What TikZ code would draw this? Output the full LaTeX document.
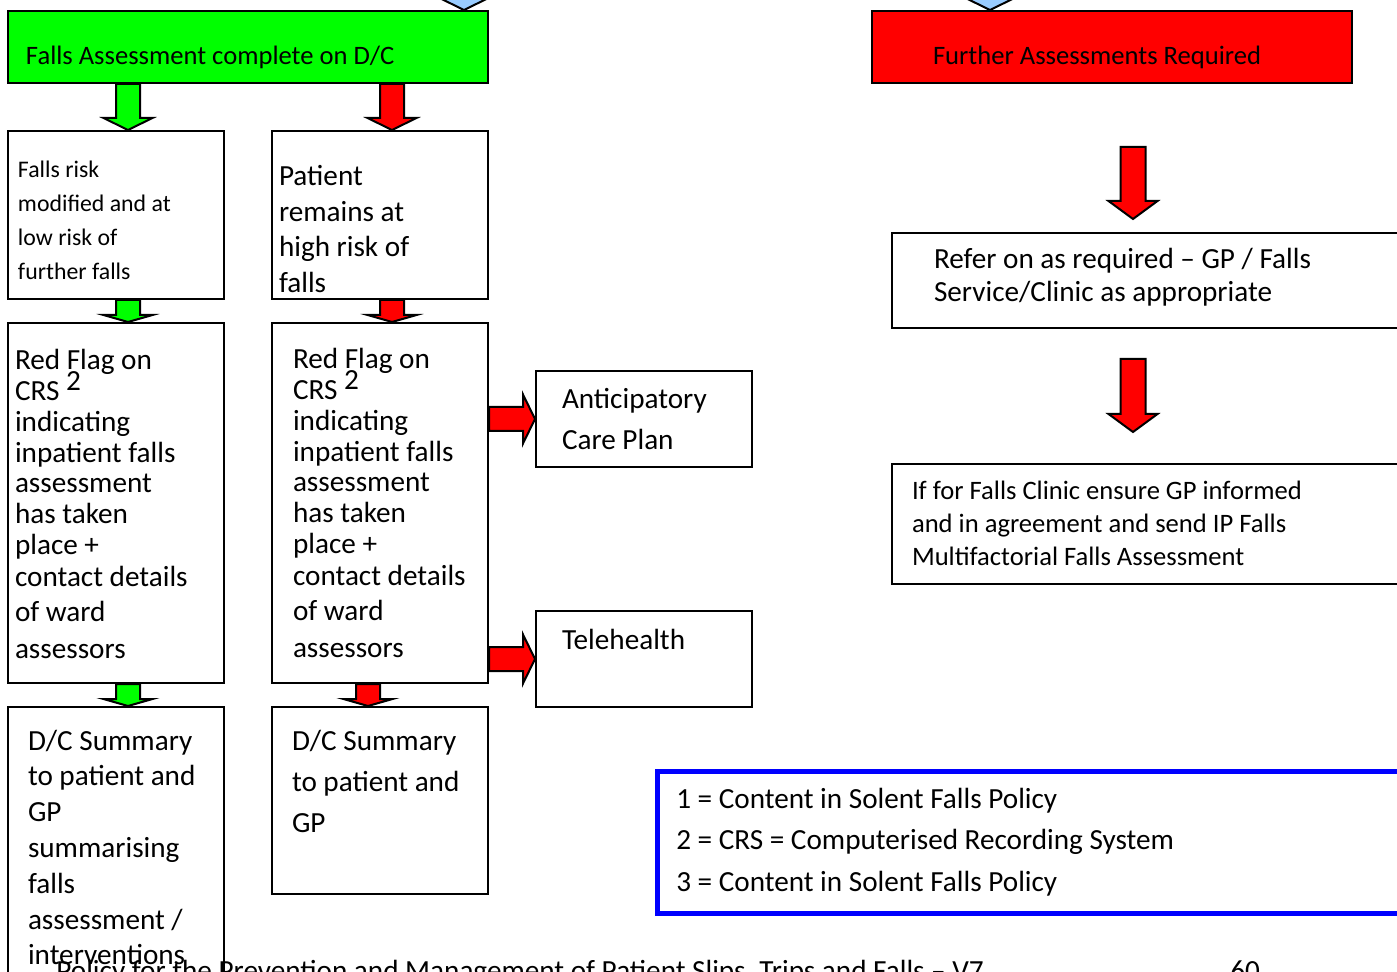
\documentclass[tikz,border=0pt]{standalone}
\usepackage{fontspec}
\setmainfont{Carlito}
\usetikzlibrary{calc}

\definecolor{flowgreen}{RGB}{0,255,0}
\definecolor{flowred}{RGB}{255,0,0}
\definecolor{keyblue}{RGB}{0,0,255}
\definecolor{skyarrow}{RGB}{153,204,255}

% Box body: #1 width, #2 height, #3 left padding, #4 first baseline from top (all in px, 1px = 0.5pt),
% #5 font size, #6 baseline skip, #7 text
\newcommand\boxbody[7]{%
  \begin{minipage}[t][\dimexpr#2pt/2\relax][t]{\dimexpr#1pt/2\relax}%
    \fontsize{#5}{#6}\selectfont
    \vspace*{\dimexpr#4pt/2-0.8em\relax}%
    \raggedright\leftskip=\dimexpr#3pt/2\relax
    \noindent\rule{0pt}{0.8em}#7\par
  \end{minipage}}

% Downward block arrow: #1 start (only its y is used), #2 tip, #3 fill, #4 shaft half width, #5 head length
\newcommand\arrowdown[5]{%
  \path[blockarrow,fill=#3] let \p1=#1, \p2=#2 in
    (\x2-#4,\y1) -- (\x2-#4,\y2+#5) -- (\x2-12.25pt,\y2+#5) -- (\x2,\y2)
    -- (\x2+12.25pt,\y2+#5) -- (\x2+#4,\y2+#5) -- (\x2+#4,\y1) -- cycle;}

% Rightward block arrow: #1 start (only its x is used), #2 tip, #3 fill, #4 shaft half width, #5 head length
\newcommand\arrowright[5]{%
  \path[blockarrow,fill=#3] let \p1=#1, \p2=#2 in
    (\x1,\y2+#4) -- (\x2-#5,\y2+#4) -- (\x2-#5,\y2+12.25pt) -- (\x2,\y2)
    -- (\x2-#5,\y2-12.25pt) -- (\x2-#5,\y2-#4) -- (\x1,\y2-#4) -- cycle;}

\begin{document}
\begin{tikzpicture}[x=0.5pt,y=-0.5pt,
  flowbox/.style={draw=black, line width=1pt, inner sep=0pt, anchor=north west},
  blockarrow/.style={draw=black, line width=1pt, line join=miter},
  pagetext/.style={anchor=base west, inner sep=0pt, font=\fontsize{14.6pt}{17pt}\selectfont}]

\useasboundingbox (0,0) rectangle (1397,972);
\clip (0,0) rectangle (1397,972);

% ---- header boxes
\node[flowbox, fill=flowgreen] (G) at (7,10)
  {\boxbody{480}{72}{18}{54}{13.3pt}{16pt}{Falls Assessment complete on D/C}};
\node[flowbox, fill=flowred] (RF) at (871,10)
  {\boxbody{480}{72}{61}{54}{13.3pt}{16pt}{Further Assessments Required}};

% ---- low-risk column
\node[flowbox] (A1) at (7,130)
  {\boxbody{216}{168}{10}{47}{11.9pt}{16.85pt}{Falls risk\\modified and at\\low risk of\\further falls}};
\node[flowbox] (A2) at (7,322)
  {\boxbody{216}{360}{7}{47}{14.6pt}{15.35pt}{Red Flag on\\CRS \smash{\raisebox{5pt}{2}}\\indicating\\inpatient falls\\assessment\\has taken\\place +\\[1pt]contact details\\[2pt]of ward\\[3pt]assessors}};
\node[flowbox] (A3) at (7,706)
  {\boxbody{216}{320}{20}{43}{14.6pt}{17.9pt}{D/C Summary\\to patient and\\GP\\summarising\\falls\\assessment /\\interventions}};

% ---- high-risk column
\node[flowbox] (B1) at (271,130)
  {\boxbody{216}{168}{7}{55}{14.6pt}{17.75pt}{Patient\\remains at\\high risk of\\falls}};
\node[flowbox] (B2) at (271,322)
  {\boxbody{216}{360}{21}{46}{14.6pt}{15.35pt}{Red Flag on\\CRS \smash{\raisebox{5pt}{2}}\\indicating\\inpatient falls\\assessment\\has taken\\place +\\[1pt]contact details\\[2pt]of ward\\[3pt]assessors}};
\node[flowbox] (B3) at (271,706)
  {\boxbody{216}{187}{20}{43}{14.6pt}{20.5pt}{D/C Summary\\to patient and\\GP}};

% ---- side boxes
\node[flowbox] (AC) at (535,370)
  {\boxbody{216}{96}{26}{38}{14.6pt}{20.5pt}{Anticipatory\\Care Plan}};
\node[flowbox] (TH) at (535,610)
  {\boxbody{216}{96}{26}{38}{14.6pt}{20.5pt}{Telehealth}};

% ---- further assessment column
\node[flowbox] (RO) at (891,232)
  {\boxbody{540}{95}{42}{36}{14.6pt}{16.5pt}{Refer on as required – GP / Falls\\Service/Clinic as appropriate}};
\node[flowbox] (FC) at (891,463)
  {\boxbody{540}{120}{20}{36}{13.3pt}{16.5pt}{If for Falls Clinic ensure GP informed\\and in agreement and send IP Falls\\Multifactorial Falls Assessment}};

% ---- key
\node[flowbox, draw=keyblue, line width=2.25pt] (KEY) at (655,769)
  {\boxbody{770}{142}{19}{37}{14.6pt}{20.75pt}{1 = Content in Solent Falls Policy\\2 = CRS = Computerised Recording System\\3 = Content in Solent Falls Policy}};

% ---- page footer
\node[pagetext] (footer) at (56,980)
  {Policy for the Prevention and Management of Patient Slips, Trips and Falls – V7};
\node[pagetext] (pageno) at (1230,980) {60};

% ---- incoming arrows from above
\coordinate (inL) at (462,-60);
\coordinate (inR) at (990,-60);
\arrowdown{(inL)}{($(G.north east)+(-25,0)$)}{skyarrow}{6.5pt}{6pt}
\arrowdown{(inR)}{($(RF.north west)+(119,0)$)}{skyarrow}{6.5pt}{6pt}

% ---- flow arrows
\arrowdown{(G.south)}{($(A1.north)+(12,0)$)}{flowgreen}{6pt}{6pt}
\arrowdown{(G.south)}{($(B1.north)+(12,0)$)}{flowred}{6pt}{6pt}
\arrowdown{(A1.south)}{($(A2.north)+(12,0)$)}{flowgreen}{6pt}{3.5pt}
\arrowdown{(B1.south)}{($(B2.north)+(12,0)$)}{flowred}{6pt}{3.5pt}
\arrowdown{(A2.south)}{($(A3.north)+(12,0)$)}{flowgreen}{6pt}{3.5pt}
\arrowdown{(B2.south)}{($(B3.north)+(-12,0)$)}{flowred}{6pt}{3.5pt}
\arrowright{(B2.east)}{(AC.west)}{flowred}{6pt}{6pt}
\arrowright{(B2.east)}{(TH.west)}{flowred}{6pt}{6pt}

% ---- free-standing arrows on the right
\coordinate (r1s) at (1133,147);
\coordinate (r1t) at (1133,219);
\coordinate (r2s) at (1133,359);
\coordinate (r2t) at (1133,432);
\arrowdown{(r1s)}{(r1t)}{flowred}{6.25pt}{9pt}
\arrowdown{(r2s)}{(r2t)}{flowred}{6.25pt}{9pt}

\end{tikzpicture}
\end{document}
